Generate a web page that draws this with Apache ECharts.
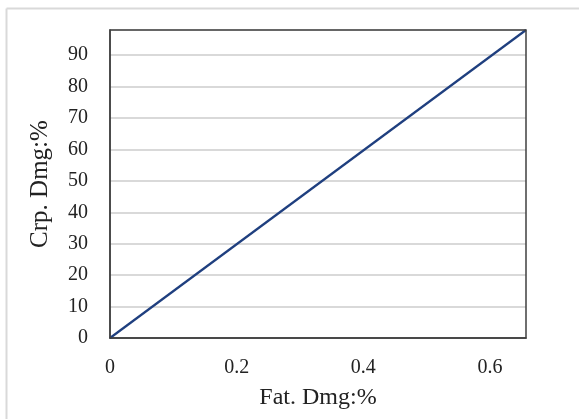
<!DOCTYPE html>
<html>
<head>
<meta charset="utf-8">
<script src="https://cdn.jsdelivr.net/npm/echarts@6/dist/echarts.min.js"></script>
<style>
html,body{margin:0;padding:0;background:#fff;}
#c{width:579px;height:419px;}
</style>
</head>
<body>
<div id="c"></div>
<script>
var fatDmg = [0, 0.657];
var crpDmg = [0, 98];
var xTicks = [0, 0.2, 0.4, 0.6];
var yTicks = [0, 10, 20, 30, 40, 50, 60, 70, 80, 90];
var xMax = 0.657, yMax = 98;

var chart = echarts.init(document.getElementById('c'), null, {renderer: 'canvas'});
var font = '"Liberation Serif", "Times New Roman", serif';
chart.setOption({
  animation: false,
  backgroundColor: '#fff',
  graphic: [
    {type: 'line', shape: {x1: 6.5, y1: 8.5, x2: 579, y2: 8.5}, style: {stroke: '#d9d9d9', lineWidth: 2}},
    {type: 'line', shape: {x1: 6.5, y1: 8.5, x2: 6.5, y2: 419}, style: {stroke: '#d9d9d9', lineWidth: 2}},
    {type: 'rect', shape: {x: 110, y: 30, width: 416, height: 308}, style: {fill: 'none', stroke: '#404040', lineWidth: 1.5}, z: 10}
  ],
  grid: {left: 110, top: 30, right: 53, bottom: 81, containLabel: false},
  xAxis: {
    type: 'value', min: 0, max: xMax, interval: 0.2,
    name: 'Fat. Dmg:%', nameLocation: 'middle', nameGap: 48,
    nameTextStyle: {fontFamily: font, fontSize: 24, color: '#222'},
    axisLine: {show: true, lineStyle: {color: '#404040', width: 1.5}},
    axisTick: {show: false},
    splitLine: {show: false},
    axisLabel: {fontFamily: font, fontSize: 20, color: '#222', margin: 20,
      formatter: function(v){ return xTicks.indexOf(Math.round(v*10)/10) >= 0 ? String(Math.round(v*10)/10) : ''; },
      showMaxLabel: false}
  },
  yAxis: {
    type: 'value', min: 0, max: yMax, interval: 10,
    name: 'Crp. Dmg:%', nameLocation: 'middle', nameGap: 57,
    nameTextStyle: {fontFamily: font, fontSize: 25, color: '#222'},
    axisLine: {show: true, lineStyle: {color: '#404040', width: 1.5}},
    axisTick: {show: false},
    splitLine: {show: true, lineStyle: {color: '#d9d9d9', width: 2}},
    axisLabel: {fontFamily: font, fontSize: 20, color: '#222', margin: 22,
      formatter: function(v){ return yTicks.indexOf(v) >= 0 ? String(v) : ''; },
      showMaxLabel: false}
  },
  series: [{
    type: 'line',
    data: fatDmg.map(function(x, i){ return [x, crpDmg[i]]; }),
    showSymbol: false,
    lineStyle: {color: '#1f3f7f', width: 2.2},
    z: 5
  }]
});
</script>
</body>
</html>
